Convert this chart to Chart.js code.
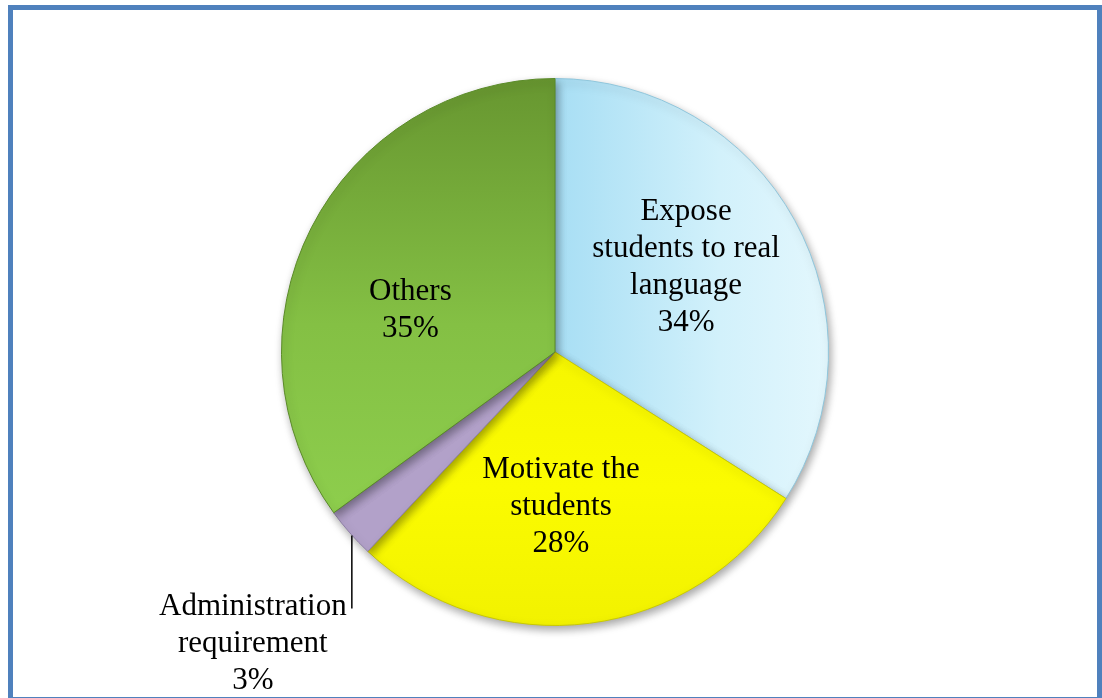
<!DOCTYPE html>
<html>
<head>
<meta charset="utf-8">
<script src="https://cdn.jsdelivr.net/npm/chart.js"></script>
<style>
  html, body { margin: 0; padding: 0; background: #fff; overflow: hidden; }
  #frame { position: absolute; left: 8px; top: 5px; width: 1094px; height: 697px; box-sizing: border-box; border: 5px solid #4f81bd; }
  #c { position: absolute; left: 0; top: 0; }
</style>
</head>
<body>
<div id="frame"></div>
<canvas id="c" width="1102" height="698"></canvas>
<script>
// data (clockwise from 12 o'clock)
const categories = [
  ['Expose', 'students to real', 'language'],
  ['Motivate the', 'students'],
  ['Administration', 'requirement'],
  ['Others']
];
const values = [34, 28, 3, 35];

// label placement: fraction of radius along the slice middle, angle tweak (deg)
const labelSpots = [
  { f: 0.57, da: -4 },
  { f: 0.565, da: 5 },
  null,               // drawn outside with a leader line
  { f: 0.55, da: -11 }
];

const FONT = '31px "Liberation Serif", "Times New Roman", serif';
const LINE_H = 37;

function sliceFill(ctx) {
  const chart = ctx.chart;
  const area = chart.chartArea;
  if (!area) return '#ccc';
  const c = chart.ctx;
  const i = ctx.dataIndex;
  let g;
  if (i === 0) {
    g = c.createLinearGradient(area.left + area.width / 2, 0, area.right, 0);
    g.addColorStop(0, '#a7def4');
    g.addColorStop(0.6, '#d2f1fb');
    g.addColorStop(1, '#e3f7fd');
  } else if (i === 1) {
    g = c.createLinearGradient(0, area.top + area.height / 2, 0, area.bottom);
    g.addColorStop(0, '#f6f600');
    g.addColorStop(0.5, '#fbfb00');
    g.addColorStop(1, '#f2f200');
  } else if (i === 2) {
    g = '#b2a1c9';
  } else {
    g = c.createLinearGradient(0, area.top, 0, area.bottom);
    g.addColorStop(0, '#679630');
    g.addColorStop(0.45, '#84c044');
    g.addColorStop(1, '#93d652');
  }
  return g;
}

const shadowPlugin = {
  id: 'shadow',
  beforeDatasetsDraw(chart) {
    const c = chart.ctx;
    c.save();
    c.shadowColor = 'rgba(0,0,0,0.35)';
    c.shadowBlur = 9;
    c.shadowOffsetX = 2;
    c.shadowOffsetY = 4;
  },
  afterDatasetsDraw(chart) {
    chart.ctx.restore();
  }
};

const labelPlugin = {
  id: 'sliceLabels',
  afterDraw(chart) {
    const c = chart.ctx;
    const arcs = chart.getDatasetMeta(0).data;
    c.save();
    c.font = FONT;
    c.fillStyle = '#000';
    c.textAlign = 'center';
    c.textBaseline = 'middle';
    arcs.forEach((arc, i) => {
      const lines = categories[i].concat([values[i] + '%']);
      const mid = (arc.startAngle + arc.endAngle) / 2;
      const spot = labelSpots[i];
      if (spot) {
        const a = mid + spot.da * Math.PI / 180;
        const cx = arc.x + Math.cos(a) * arc.outerRadius * spot.f;
        const cy = arc.y + Math.sin(a) * arc.outerRadius * spot.f;
        const top = cy - (lines.length - 1) * LINE_H / 2;
        lines.forEach((t, k) => c.fillText(t, cx, top + k * LINE_H));
      } else {
        // leader line straight down from the rim, text hanging to the left
        const ex = arc.x + Math.cos(mid) * (arc.outerRadius + 4) + 5;
        const ey = arc.y + Math.sin(mid) * (arc.outerRadius + 4);
        c.strokeStyle = '#000';
        c.lineWidth = 1.5;
        c.beginPath();
        c.moveTo(ex, ey);
        c.lineTo(ex, ey + 73);
        c.stroke();
        const cx = ex - 99;
        const top = ey + 71;
        lines.forEach((t, k) => c.fillText(t, cx, top + k * LINE_H));
      }
    });
    c.restore();
  }
};

new Chart(document.getElementById('c'), {
  type: 'pie',
  data: {
    labels: categories.map(l => l.join(' ')),
    datasets: [{
      data: values,
      backgroundColor: sliceFill,
      borderColor: ['#8fc6dc', '#c9c900', '#8e7fa6', '#5a8a28'],
      borderWidth: 1
    }]
  },
  options: {
    responsive: false,
    animation: false,
    rotation: 0,
    layout: { padding: { top: 78, bottom: 72, left: 281, right: 273 } },
    plugins: {
      legend: { display: false },
      tooltip: { enabled: false }
    }
  },
  plugins: [shadowPlugin, labelPlugin]
});
</script>
</body>
</html>
